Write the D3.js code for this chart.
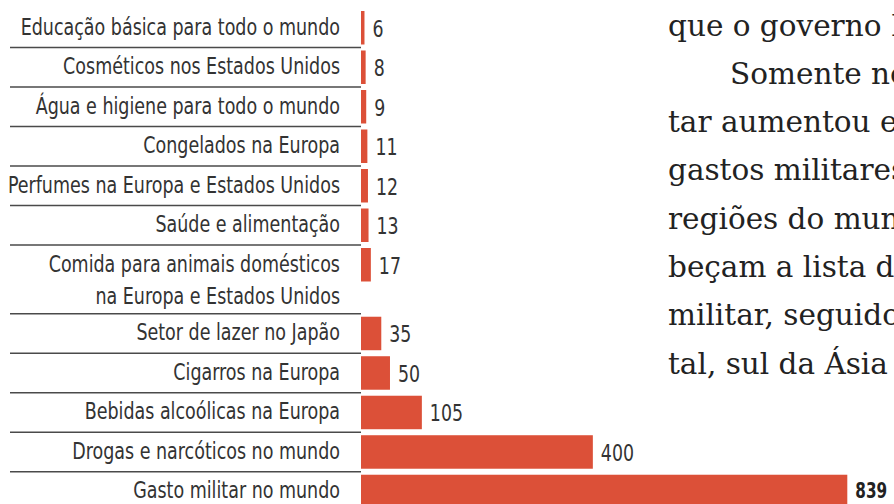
<!DOCTYPE html>
<html>
<head>
<meta charset="utf-8">
<script src="https://cdn.jsdelivr.net/npm/d3@7"></script>
<style>
  html, body { margin: 0; padding: 0; background: #fff; overflow: hidden; }
  .cat, .val { font-family: "Liberation Sans Narrow", "DejaVu Sans Condensed", "Arial Narrow", sans-serif; }
  .para { font-family: "DejaVu Serif", "Liberation Serif", serif; }
</style>
</head>
<body>
<svg id="chart" width="894" height="504"></svg>
<script>
// Spending by sector, in billions of US dollars per year
const categories = [
  ["Educação básica para todo o mundo"],
  ["Cosméticos nos Estados Unidos"],
  ["Água e higiene para todo o mundo"],
  ["Congelados na Europa"],
  ["Perfumes na Europa e Estados Unidos"],
  ["Saúde e alimentação"],
  ["Comida para animais domésticos", "na Europa e Estados Unidos"],
  ["Setor de lazer no Japão"],
  ["Cigarros na Europa"],
  ["Bebidas alcoólicas na Europa"],
  ["Drogas e narcóticos no mundo"],
  ["Gasto militar no mundo"]
];
const values = [6, 8, 9, 11, 12, 13, 17, 35, 50, 105, 400, 839];
const highlighted = ["Gasto militar no mundo"];

// Running text beside the chart
const paragraphLines = [
  { text: "que o governo Bush", indent: false },
  { text: "Somente no", indent: true },
  { text: "tar aumentou em", indent: false },
  { text: "gastos militares", indent: false },
  { text: "regiões do mundo", indent: false },
  { text: "beçam a lista de", indent: false },
  { text: "militar, seguido", indent: false },
  { text: "tal, sul da Ásia e", indent: false }
];

const svg = d3.select("#chart");

// Each row takes one unit, plus extra for each additional label line
const extraLine = 0.74;
const weights = categories.map(c => 1 + (c.length - 1) * extraLine);
const starts = [];
weights.reduce((acc, w, i) => { starts[i] = acc; return acc + w; }, 0);
const totalUnits = d3.sum(weights);

const rowPx = 39.5;
const y = d3.scaleLinear().domain([0, totalUnits]).range([11, 11 + totalUnits * rowPx]);
const barFrac = 0.848;
const barH = y(barFrac) - y(0);

const x = d3.scaleLinear().domain([0, 839]).range([361, 847.3]);

// Condensed look for the sans labels
const squeezeCat = 0.865;
const squeezeVal = 0.84;
const squeezeBold = 0.77;

const rows = categories.map((c, i) => ({
  lines: c, value: values[i], start: starts[i], weight: weights[i],
  bold: highlighted.includes(c[0])
}));

// Separators between rows
svg.append("g").selectAll("line")
  .data(rows.slice(0, -1))
  .join("line")
  .attr("x1", 10).attr("x2", x(0))
  .attr("y1", d => y(d.start + d.weight) - 3)
  .attr("y2", d => y(d.start + d.weight) - 3)
  .attr("stroke", "#4a4a4a")
  .attr("stroke-width", 1.4);

// Bars
svg.append("g").selectAll("rect")
  .data(rows)
  .join("rect")
  .attr("x", x(0))
  .attr("y", d => y(d.start))
  .attr("width", d => x(d.value) - x(0))
  .attr("height", barH)
  .attr("fill", "#dc5038");

// Category labels
const cat = svg.append("g").selectAll("text")
  .data(rows)
  .join("text")
  .attr("class", "cat")
  .attr("text-anchor", "end")
  .attr("font-size", 22.5)
  .attr("fill", "#333")
  .attr("transform", d => `translate(340,${y(d.start) + barH / 2 + 6.8}) scale(${squeezeCat},1)`);
cat.selectAll("tspan")
  .data(d => d.lines.map((t, k) => ({ t, k })))
  .join("tspan")
  .attr("x", 0)
  .attr("y", e => e.k * 32)
  .text(e => e.t);

// Value labels
svg.append("g").selectAll("text")
  .data(rows)
  .join("text")
  .attr("class", "val")
  .attr("transform", d => `translate(${x(d.value) + 8},${y(d.start) + barH / 2 + (d.bold ? 6.3 : 9)}) scale(${d.bold ? squeezeBold : squeezeVal},1)`)
  .attr("font-size", d => d.bold ? 22 : 23)
  .attr("font-weight", d => d.bold ? "bold" : "normal")
  .attr("fill", d => d.bold ? "#222" : "#333")
  .text(d => d.value);

// Paragraph
svg.append("g").selectAll("text")
  .data(paragraphLines)
  .join("text")
  .attr("class", "para")
  .attr("x", d => d.indent ? 730 : 668)
  .attr("y", (d, i) => 35.5 + i * 48.3)
  .attr("font-size", 29.5)
  .attr("fill", "#222")
  .text(d => d.text);
</script>
</body>
</html>
